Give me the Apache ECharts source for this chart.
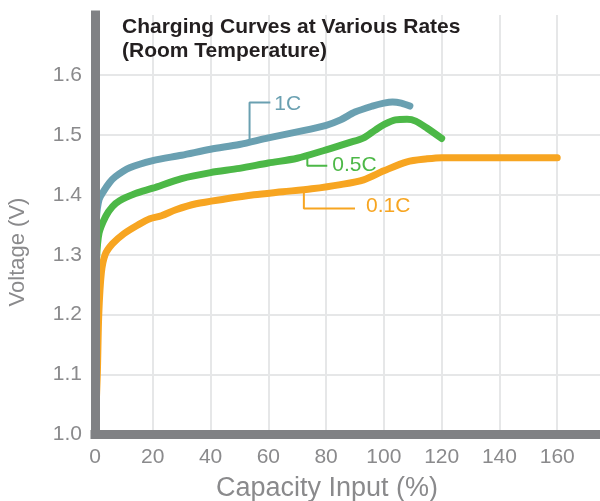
<!DOCTYPE html>
<html><head><meta charset="utf-8">
<script src="https://cdn.jsdelivr.net/npm/echarts@6/dist/echarts.min.js"></script>
<style>html,body{margin:0;padding:0;background:#fff}#c{width:600px;height:501px}</style>
</head><body><div id="c"></div>
<script>
// ---- data ----
const xTicks = [0, 20, 40, 60, 80, 100, 120, 140, 160];
const yTicks = [1.0, 1.1, 1.2, 1.3, 1.4, 1.5, 1.6];
const seriesNames = ['1C', '0.5C', '0.1C'];
const rate1C = [[0,1.25],[0.5,1.36],[1.4,1.392],[3,1.406],[5,1.42],[7,1.43],[12,1.445],[20,1.457],[30,1.466],[40,1.476],[50,1.484],[60,1.495],[70,1.505],[80,1.516],[85,1.525],[90,1.538],[96,1.548],[100,1.553],[103,1.555],[106,1.553],[109,1.548]];
const rate05C = [[0,1.2],[0.5,1.29],[1.4,1.336],[3.7,1.364],[6,1.38],[8.5,1.39],[14,1.402],[20,1.411],[30,1.427],[40,1.437],[50,1.444],[60,1.453],[70,1.461],[80,1.475],[88,1.487],[93,1.495],[97,1.508],[100,1.517],[104,1.525],[108,1.526],[111,1.523],[115,1.511],[120,1.494]];
const rate01C = [[0,1.0],[0.8,1.1],[1.3,1.2],[2.2,1.27],[3.5,1.3],[6,1.318],[10,1.335],[15,1.35],[19,1.36],[23,1.365],[28,1.375],[35,1.385],[45,1.393],[55,1.4],[65,1.405],[75,1.41],[85,1.417],[93,1.425],[100,1.44],[108,1.455],[115,1.46],[120,1.462],[140,1.462],[160,1.462]];

// ---- styling ----
const colors = ['#6aa0b1', '#4cb847', '#f7a521'];
const font = 'Liberation Sans, Arial, Helvetica, sans-serif';
const axisGray = '#808184';
const labelGray = '#8a8a8c';
const gridGray = '#e6e7e8';

// callout brackets (annotation geometry, in data units)
const callouts = [
  { name: seriesNames[0], path: [[53.5,1.492],[53.5,1.554],[60.7,1.554]], dist: 4, off: [0, 2], color: colors[0] },
  { name: seriesNames[1], path: [[73.5,1.467],[73.5,1.4484],[80.4,1.4484]], dist: 5, off: [0, -1], color: colors[1] },
  { name: seriesNames[2], path: [[72.3,1.403],[72.3,1.377],[90,1.377]], dist: 11, off: [0, -2], color: colors[2] }
];

const chart = echarts.init(document.getElementById('c'), null, { renderer: 'canvas' });

const common = { min: 0, max: 180, interval: 20 };
const commonY = { min: 1.0, max: 1.7, interval: 0.1 };

const mainSeries = [rate1C, rate05C, rate01C].map((d, i) => ({
  type: 'line', name: seriesNames[i], data: d, xAxisIndex: 0, yAxisIndex: 0,
  showSymbol: false, symbol: 'none', smooth: 0.3,
  lineStyle: { width: 7, color: colors[i], cap: 'round', join: 'round' },
  z: 3, silent: true, animation: false
}));

const calloutSeries = callouts.map(c => ({
  type: 'line', data: c.path, xAxisIndex: 0, yAxisIndex: 0,
  showSymbol: false, symbol: 'none',
  lineStyle: { width: 2, color: c.color },
  endLabel: { show: true, formatter: c.name, color: c.color, fontSize: 21, fontFamily: font, distance: c.dist, offset: c.off },
  z: 4, silent: true, animation: false
}));

chart.setOption({
  animation: false,
  backgroundColor: '#fff',
  title: {
    text: 'Charging Curves at Various Rates\n(Room Temperature)',
    left: 117, top: 10,
    textStyle: { fontSize: 21, fontWeight: 'bold', color: '#231f20', fontFamily: font, lineHeight: 24 }
  },
  grid: { left: 95, width: 520, top: 15, height: 419.5, containLabel: false, outerBoundsMode: 'none' },
  xAxis: [
    Object.assign({ type: 'value', position: 'bottom', z: 0,
      axisLine: { show: false, onZero: false }, axisTick: { show: false }, axisLabel: { show: false },
      splitLine: { show: true, lineStyle: { color: gridGray, width: 2 } } }, common),
    Object.assign({ type: 'value', position: 'bottom', z: 10,
      axisLine: { show: true, onZero: false, lineStyle: { color: axisGray, width: 9, cap: 'square' } },
      axisTick: { show: false }, splitLine: { show: false },
      axisLabel: { show: true, margin: 12, fontSize: 21, color: labelGray, fontFamily: font,
        formatter: v => xTicks.includes(v) ? String(v) : '' } }, common)
  ],
  yAxis: [
    Object.assign({ type: 'value', position: 'left', z: 0,
      axisLine: { show: false, onZero: false }, axisTick: { show: false }, axisLabel: { show: false },
      splitLine: { show: true, showMaxLine: false, lineStyle: { color: gridGray, width: 2 } } }, commonY),
    Object.assign({ type: 'value', position: 'left', z: 10,
      axisLine: { show: true, onZero: false, lineStyle: { color: axisGray, width: 9, cap: 'square' } },
      axisTick: { show: false }, splitLine: { show: false },
      axisLabel: { show: true, margin: 13, fontSize: 21, color: labelGray, fontFamily: font,
        formatter: v => { const t = yTicks.find(k => Math.abs(k - v) < 1e-6); return t === undefined ? '' : t.toFixed(1); } } }, commonY)
  ],
  graphic: [
    { type: 'text', style: { text: 'Capacity Input (%)', x: 327, y: 489, align: 'center', verticalAlign: 'middle', fontSize: 27, fontFamily: font, fill: labelGray } },
    { type: 'text', x: 18, y: 252, rotation: Math.PI / 2, style: { text: 'Voltage (V)', x: 0, y: 0, align: 'center', verticalAlign: 'middle', fontSize: 22, fontFamily: font, fill: labelGray } }
  ],
  series: mainSeries.concat(calloutSeries)
});
</script></body></html>
